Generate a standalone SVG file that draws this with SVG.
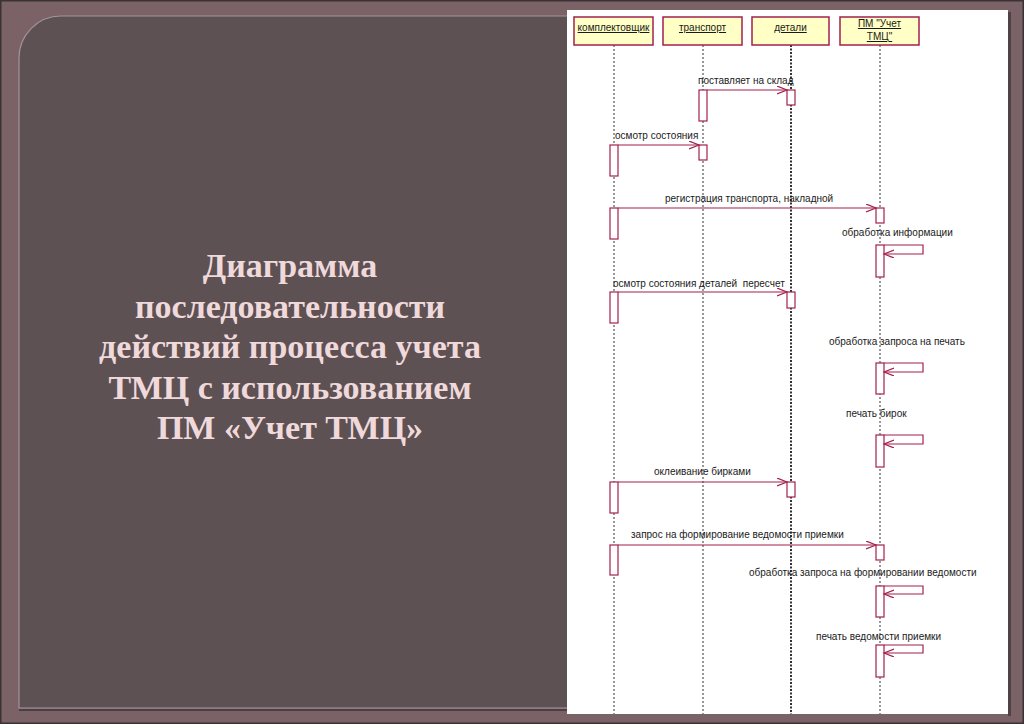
<svg xmlns="http://www.w3.org/2000/svg" width="1024" height="724" viewBox="0 0 1024 724">
  <defs>
    <style>
      .actor rect { fill: #ffffc6; stroke: #a3204f; stroke-width: 1.5; }
      .actor text { font-family: "Liberation Sans", Arial, sans-serif; font-size: 10px; fill: #1a1a1a; text-anchor: middle; text-decoration: underline; }
      .life { stroke: #333; stroke-width: 1; stroke-dasharray: 2 2; fill: none; }
      .life2 { stroke: #333; stroke-width: 2; stroke-dasharray: 2 1.5; fill: none; }
      .act { fill: #fff; stroke: #a3204f; stroke-width: 1.2; }
      .msg { stroke: #a3204f; stroke-width: 1.2; fill: none; }
      .lbl { font-family: "Liberation Sans", Arial, sans-serif; font-size: 10px; fill: #1a1a1a; }
      .title { font-family: "Liberation Serif", "Times New Roman", serif; font-weight: bold; font-size: 34px; fill: #efd9db; text-anchor: middle; }
    </style>
    <marker id="open" markerWidth="12" markerHeight="10" refX="10" refY="4" orient="auto" markerUnits="userSpaceOnUse">
      <path d="M0,0 L10,4 L0,8" fill="none" stroke="#a3204f" stroke-width="1.2"/>
    </marker>
  </defs>

  <!-- slide frame -->
  <rect x="0" y="0" width="1024" height="724" fill="#7a6266"/>
  <rect x="0.5" y="0.5" width="1023" height="723" fill="none" stroke="#3b3235" stroke-width="2"/>
  <path d="M19,708 L19,58 A42,42 0 0 1 61,16 L1000,16 L1000,708 Z" fill="#5e5153" stroke="#a4939a" stroke-width="1.2"/>
  <line x1="19" y1="710" x2="1000" y2="710" stroke="#4a3f42" stroke-width="2"/>

  <!-- title -->
  <g id="title">
    <text class="title" x="290" y="277">Диаграмма</text>
    <text class="title" x="290" y="317.5">последовательности</text>
    <text class="title" x="290" y="358">действий процесса учета</text>
    <text class="title" x="290" y="398.5">ТМЦ с использованием</text>
    <text class="title" x="290" y="439">ПМ «Учет ТМЦ»</text>
  </g>

  <!-- white diagram panel -->
  <rect x="1008" y="12" width="3" height="704" fill="#4e4245"/>
  <rect x="567" y="10" width="441" height="704" fill="#ffffff"/>

  <!-- lifelines -->
  <g id="lifelines">
    <line class="life" x1="614" y1="45" x2="614" y2="714"/>
    <line class="life" x1="703" y1="45" x2="703" y2="714"/>
    <line class="life2" x1="791" y1="45" x2="791" y2="714"/>
    <line class="life" x1="880" y1="45" x2="880" y2="714"/>
  </g>

  <!-- actors -->
  <g id="actor-komplektovshchik" class="actor">
    <rect x="574" y="17" width="79" height="28"/>
    <text x="613.5" y="31">комплектовщик</text>
  </g>
  <g id="actor-transport" class="actor">
    <rect x="663" y="17" width="79" height="28"/>
    <text x="702.5" y="31">транспорт</text>
  </g>
  <g id="actor-detali" class="actor">
    <rect x="752" y="17" width="77" height="28"/>
    <text x="790.5" y="31">детали</text>
  </g>
  <g id="actor-pm" class="actor">
    <rect x="840" y="17" width="79" height="28"/>
    <text x="879.5" y="27">ПМ "Учет</text>
    <text x="879.5" y="40">ТМЦ"</text>
  </g>

  <!-- activations -->
  <g id="activations">
    <rect class="act" x="699" y="90" width="8" height="31"/>
    <rect class="act" x="787" y="90" width="8" height="15"/>
    <rect class="act" x="610" y="145" width="8" height="31"/>
    <rect class="act" x="699" y="145" width="8" height="15"/>
    <rect class="act" x="610" y="208" width="8" height="31"/>
    <rect class="act" x="876" y="208" width="8" height="15"/>
    <rect class="act" x="876" y="245" width="8" height="32"/>
    <rect class="act" x="610" y="292" width="8" height="31"/>
    <rect class="act" x="787" y="292" width="8" height="16"/>
    <rect class="act" x="876" y="363" width="8" height="31"/>
    <rect class="act" x="876" y="435" width="8" height="32"/>
    <rect class="act" x="610" y="482" width="8" height="31"/>
    <rect class="act" x="787" y="482" width="8" height="15"/>
    <rect class="act" x="610" y="545" width="8" height="30"/>
    <rect class="act" x="876" y="545" width="8" height="15"/>
    <rect class="act" x="876" y="586" width="8" height="31"/>
    <rect class="act" x="876" y="645" width="8" height="32"/>
  </g>

  <!-- connectors -->
  <g id="connectors">
    <line class="msg" x1="707" y1="90" x2="787" y2="90" marker-end="url(#open)"/>
    <line class="msg" x1="618" y1="145" x2="699" y2="145" marker-end="url(#open)"/>
    <line class="msg" x1="618" y1="208" x2="876" y2="208" marker-end="url(#open)"/>
    <path class="msg" d="M884,245 L923,245 L923,254 L884,254" marker-end="url(#open)"/>
    <line class="msg" x1="618" y1="292" x2="787" y2="292" marker-end="url(#open)"/>
    <path class="msg" d="M884,363 L923,363 L923,372 L884,372" marker-end="url(#open)"/>
    <path class="msg" d="M884,435 L923,435 L923,444 L884,444" marker-end="url(#open)"/>
    <line class="msg" x1="618" y1="482" x2="787" y2="482" marker-end="url(#open)"/>
    <line class="msg" x1="618" y1="545" x2="876" y2="545" marker-end="url(#open)"/>
    <path class="msg" d="M884,586 L923,586 L923,594 L884,594" marker-end="url(#open)"/>
    <path class="msg" d="M884,645 L923,645 L923,653 L884,653" marker-end="url(#open)"/>
  </g>

  <!-- message labels -->
  <g id="labels">
    <text class="lbl" x="698" y="84">поставляет на склад</text>
    <text class="lbl" x="615" y="139">осмотр состояния</text>
    <text class="lbl" x="665" y="202">регистрация транспорта, накладной</text>
    <text class="lbl" x="842" y="236">обработка информации</text>
    <text class="lbl" x="613" y="287" xml:space="preserve">осмотр состояния деталей  пересчет</text>
    <text class="lbl" x="829" y="345">обработка запроса на печать</text>
    <text class="lbl" x="846" y="417">печать бирок</text>
    <text class="lbl" x="654" y="475">оклеивание бирками</text>
    <text class="lbl" x="631" y="538">запрос на формирование ведомости приемки</text>
    <text class="lbl" x="749" y="576">обработка запроса на формировании ведомости</text>
    <text class="lbl" x="816" y="640">печать ведомости приемки</text>
  </g>
</svg>
